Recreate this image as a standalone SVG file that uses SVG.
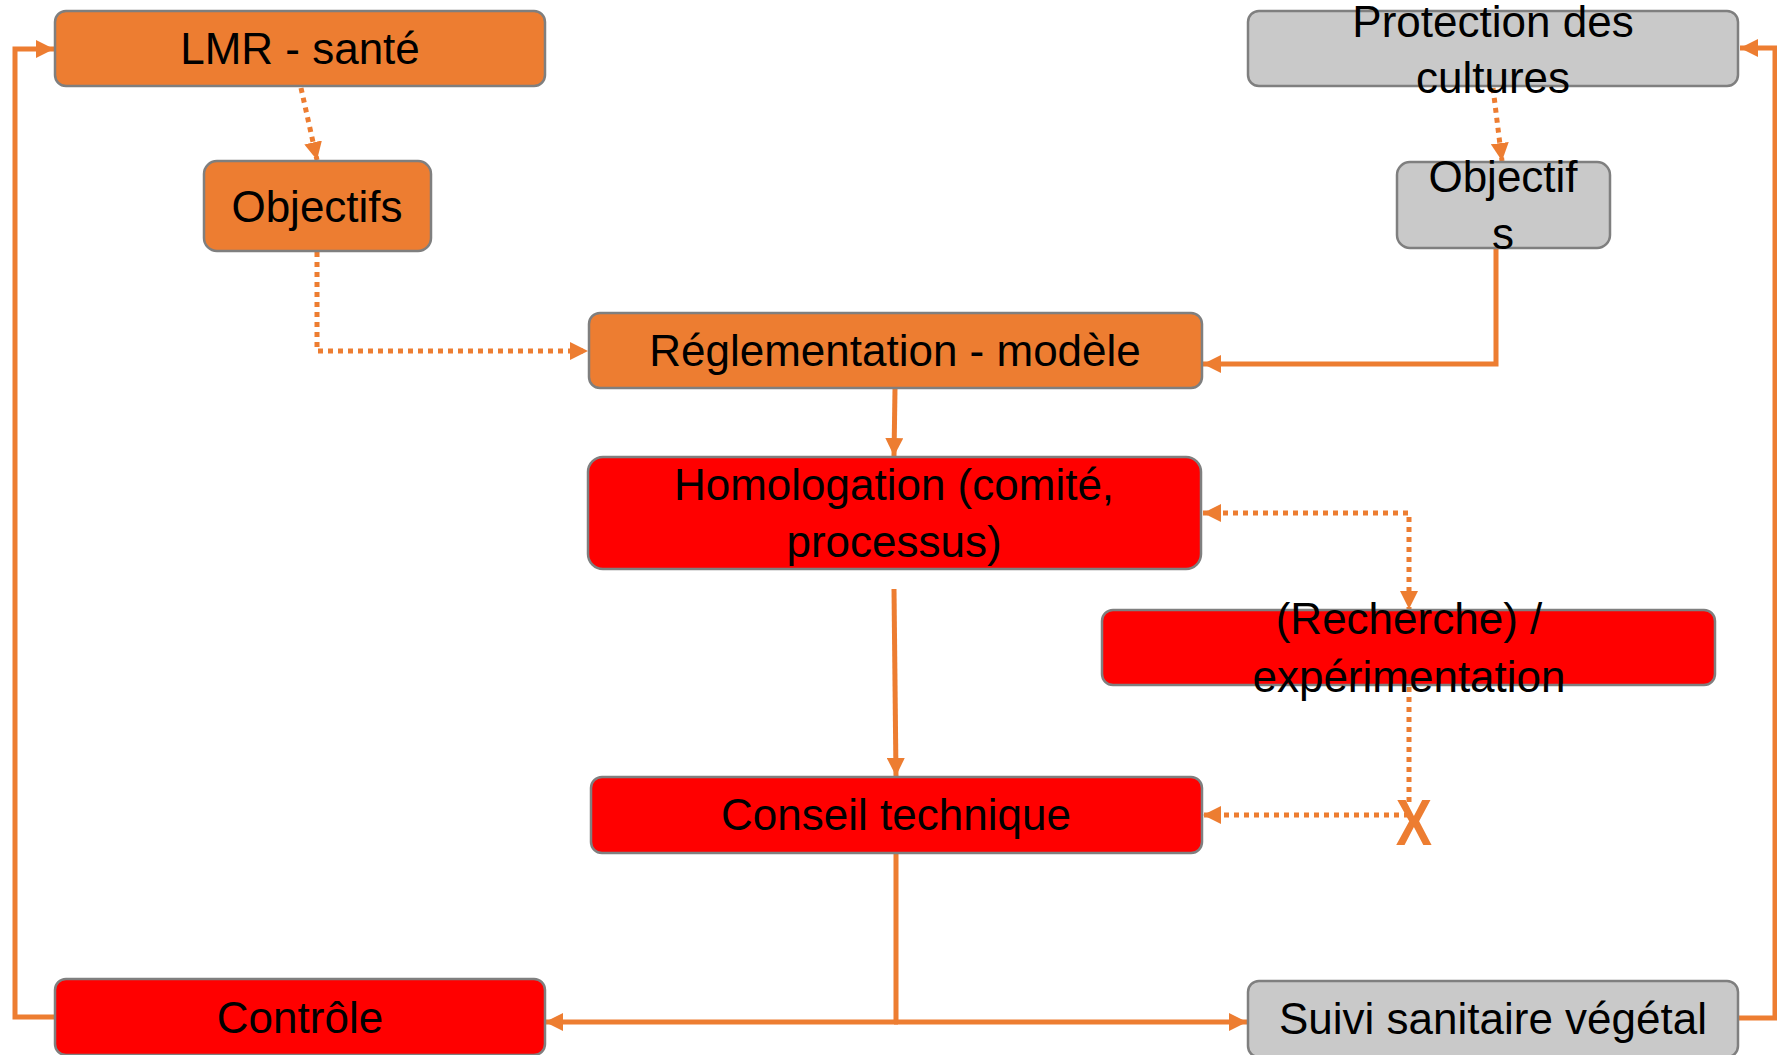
<svg xmlns="http://www.w3.org/2000/svg" width="1777" height="1055" viewBox="0 0 1777 1055">
<style>
.box{stroke:#7F7F7F;stroke-width:2.5}
.or{fill:#ED7D31}
.rd{fill:#FF0000}
.gr{fill:#C9C9C9}
.t{font-family:"Liberation Sans",Arial,sans-serif;font-size:44px;fill:#000;text-anchor:middle}
.c{fill:none;stroke:#ED7D31;stroke-width:5}
.d{stroke-dasharray:5 5}
.x{font-family:"Liberation Sans",Arial,sans-serif;font-weight:bold;font-size:64px;fill:#ED7D31;text-anchor:middle}
</style>
<defs>
<marker id="ah" viewBox="0 0 10 10" refX="10" refY="5" markerWidth="18" markerHeight="18" markerUnits="userSpaceOnUse" orient="auto-start-reverse">
<path d="M0,0 L10,5 L0,10 z" fill="#ED7D31"/>
</marker>
</defs>
<rect width="1777" height="1055" fill="#fff"/>
<g id="connectors">
<path class="c d" d="M301,88 L317,160" marker-end="url(#ah)"/>
<path class="c d" d="M317,252 L317,351 L588,351" marker-end="url(#ah)"/>
<path class="c d" d="M1493,88 L1502,161" marker-end="url(#ah)"/>
<path class="c" d="M1496,247 L1496,364 L1203,364" marker-end="url(#ah)"/>
<path class="c" d="M895,389 L894,456" marker-end="url(#ah)"/>
<path class="c" d="M894,589 L896,776" marker-end="url(#ah)"/>
<path class="c d" d="M1203,513 L1409,513 L1409,609" marker-start="url(#ah)" marker-end="url(#ah)"/>
<path class="c d" d="M1409,687 L1409,806"/>
<path class="c d" d="M1409,815 L1203,815" marker-end="url(#ah)"/>
<path class="c" d="M896,853 L896,1022"/>
<path class="c" d="M898,1022 L545,1022" marker-end="url(#ah)"/>
<path class="c" d="M894,1022 L1247,1022" marker-end="url(#ah)"/>
<path class="c" d="M56,1017 L15,1017 L15,49 L54,49" marker-end="url(#ah)"/>
<path class="c" d="M1738,1018 L1775,1018 L1775,48 L1740,48" marker-end="url(#ah)"/>
</g>
<g id="n-lmr">
<rect class="box or" x="55" y="11" width="490" height="75" rx="11"/>
<text class="t" x="300" y="64">LMR - santé</text>
</g>
<g id="n-objectifs-l">
<rect class="box or" x="204" y="161" width="227" height="90" rx="13"/>
<text class="t" x="317" y="222">Objectifs</text>
</g>
<g id="n-protection">
<rect class="box gr" x="1248" y="11" width="490" height="75" rx="11"/>
<text class="t" x="1493" y="37">Protection des</text>
<text class="t" x="1493" y="93">cultures</text>
</g>
<g id="n-objectifs-r">
<rect class="box gr" x="1397" y="162" width="213" height="86" rx="13"/>
<text class="t" x="1503" y="192">Objectif</text>
<text class="t" x="1503" y="249">s</text>
</g>
<g id="n-reglementation">
<rect class="box or" x="589" y="313" width="613" height="75" rx="11"/>
<text class="t" x="895" y="366">Réglementation - modèle</text>
</g>
<g id="n-homologation">
<rect class="box rd" x="588" y="457" width="613" height="112" rx="15"/>
<text class="t" x="894" y="500">Homologation (comité,</text>
<text class="t" x="894" y="557">processus)</text>
</g>
<g id="n-recherche">
<rect class="box rd" x="1102" y="610" width="613" height="75" rx="11"/>
<text class="t" x="1409" y="634">(Recherche) /</text>
<text class="t" x="1409" y="692">expérimentation</text>
</g>
<g id="n-conseil">
<rect class="box rd" x="591" y="777" width="611" height="76" rx="11"/>
<text class="t" x="896" y="830">Conseil technique</text>
</g>
<g id="n-x">
<text class="x" x="1414" y="845" transform="translate(1414 0) scale(0.85 1) translate(-1414 0)">X</text>
</g>
<g id="n-controle">
<rect class="box rd" x="55" y="979" width="490" height="76" rx="11"/>
<text class="t" x="300" y="1033">Contrôle</text>
</g>
<g id="n-suivi">
<rect class="box gr" x="1248" y="981" width="490" height="76" rx="11"/>
<text class="t" x="1493" y="1034">Suivi sanitaire végétal</text>
</g>
</svg>
